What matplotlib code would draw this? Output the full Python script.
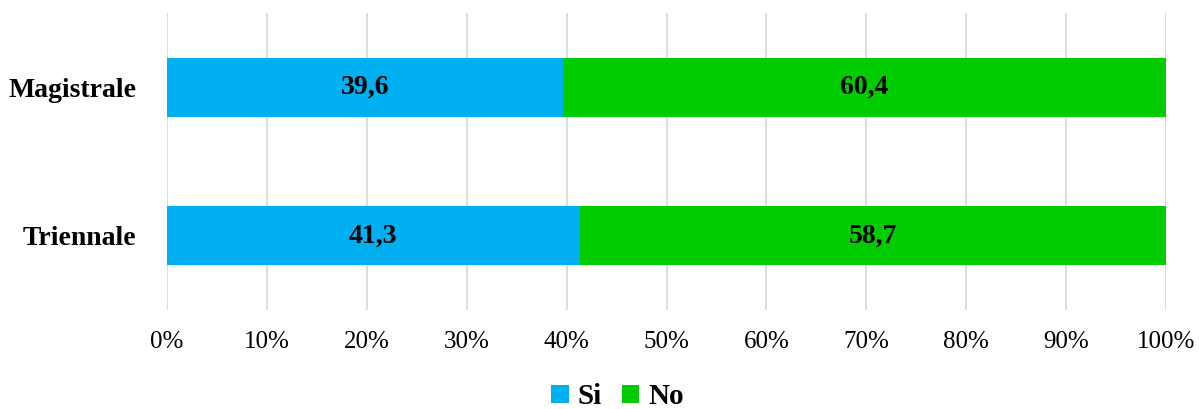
import matplotlib
matplotlib.use('Agg')
from matplotlib import pyplot as plt
import numpy as np

categories = ['Triennale', 'Magistrale']
si_values = [41.3, 39.6]
no_values = [58.7, 60.4]
series_names = ['Si', 'No']
colors = ['#00B0F0', '#00CC00']

plt.rcParams['font.family'] = ['Liberation Serif', 'DejaVu Serif']

fig = plt.figure(figsize=(11.99, 4.09), dpi=100)
ax = fig.add_axes([0.1393, 0.242, 0.8332, 0.7262])

y = np.arange(len(categories))
bars_si = ax.barh(y, si_values, height=0.4, color=colors[0], label=series_names[0])
bars_no = ax.barh(y, no_values, left=si_values, height=0.4, color=colors[1], label=series_names[1])

# labels in the middle of each segment
for bars, vals in ((bars_si, si_values), (bars_no, no_values)):
    for b, v in zip(bars, vals):
        ax.text(b.get_x() + b.get_width() / 2, b.get_y() + b.get_height() / 2,
                f'{v:.1f}'.replace('.', ','), ha='center', va='center',
                fontsize=20, fontweight='bold', color='black')

ax.set_xlim(0, 100)
ax.set_ylim(-0.5, 1.5)
ax.set_xticks(np.arange(0, 101, 10))
ax.set_xticklabels([f'{t}%' for t in range(0, 101, 10)], fontsize=18)
ax.set_yticks(y)
ax.set_yticklabels(categories, fontsize=20, fontweight='bold')
ax.tick_params(length=0)
ax.tick_params(axis='x', pad=15)
ax.tick_params(axis='y', pad=22)
ax.grid(axis='x', color='#d9d9d9', linewidth=1.3)
ax.set_axisbelow(True)
for s in ax.spines.values():
    s.set_visible(False)

fig.legend(loc='center', bbox_to_anchor=(0.515, 0.03), ncol=2, frameon=False,
           prop={'size': 21, 'weight': 'bold'}, handlelength=0.6, handleheight=0.6,
           handletextpad=0.3, columnspacing=0.7)

plt.savefig('out.png', dpi=100)
